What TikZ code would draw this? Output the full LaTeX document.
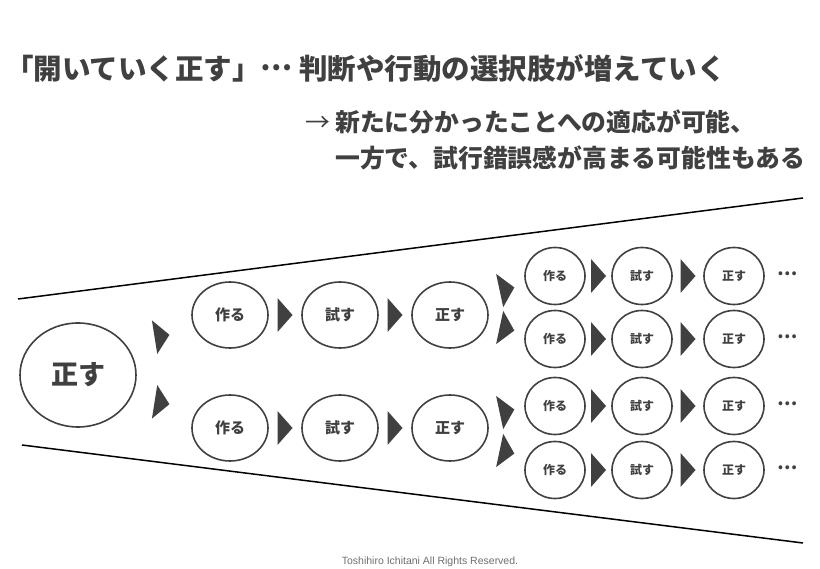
\documentclass[tikz,border=0pt]{standalone}
\usepackage{fontspec}
\setmainfont{Liberation Sans}
\newfontfamily\jp{Noto Sans CJK JP}
\usepackage{tikz}
\usetikzlibrary{shapes.geometric,calc}
\definecolor{ink}{RGB}{64,64,64}
\definecolor{footgray}{RGB}{110,110,110}
\newcommand{\middots}{\raisebox{0.3em}{…}}

\tikzset{
  bubble/.style={ellipse, draw=ink, line width=1.6pt, text=ink, inner sep=0pt},
  bigbubble/.style={bubble, minimum width=116pt, minimum height=104pt,
    font=\jp\bfseries\fontsize{27}{27}\selectfont},
  midbubble/.style={bubble, minimum width=76pt, minimum height=66pt,
    font=\jp\bfseries\fontsize{15}{15}\selectfont},
  smallbubble/.style={bubble, minimum width=60pt, minimum height=57pt,
    font=\jp\bfseries\fontsize{12}{12}\selectfont},
  dots/.style={text=ink, inner sep=0pt, font=\jp\bfseries\fontsize{18}{18}\selectfont},
  funnel/.style={line width=1.5pt, black},
  tri/.pic={\fill[ink] (-7.5,-17) -- (7.5,0) -- (-7.5,17) -- cycle;}
}

\begin{document}
\begin{tikzpicture}[x=1pt, y=-1pt]
    \useasboundingbox (0,0) rectangle (820,569);

    % Heading
    \node[anchor=west, text=ink, font=\jp\bfseries\fontsize{28.5}{28.5}\selectfont, inner sep=0pt]
        (title) at (5,68) {「開いていく正す」\middots\ 判断や行動の選択肢が増えていく};
    \node[anchor=west, text=ink, font=\jp\bfseries\fontsize{24.8}{24.8}\selectfont, inner sep=0pt]
        (note1) at (335,122) {\llap{{\mdseries →}\hspace{5pt}}新たに分かったことへの適応が可能、};
    \node[anchor=west, text=ink, font=\jp\bfseries\fontsize{24.8}{24.8}\selectfont, inner sep=0pt]
        (note2) at (335,158) {一方で、試行錯誤感が高まる可能性もある};

    % Funnel
    \coordinate (topL) at (18,299);
    \coordinate (topR) at (803,198);
    \coordinate (botL) at (22,445);
    \coordinate (botR) at (803,543);
    \draw[funnel] (topL) -- (topR);
    \draw[funnel] (botL) -- (botR);

    % Start
    \node[bigbubble] (start) at (78,375) {正す};
    \pic[rotate=9] at (162,336) {tri};
    \pic[rotate=-9] at (162,403) {tri};

    % Second level
    \foreach \y/\i in {315/1,428/2} {
        \node[midbubble] (make\i) at (230,\y) {作る};
        \node[midbubble] (try\i) at (340,\y) {試す};
        \node[midbubble] (fix\i) at (450,\y) {正す};
        \pic at ($(make\i.east)!0.5!(try\i.west)$) {tri};
        \pic at ($(try\i.east)!0.5!(fix\i.west)$) {tri};
    }

    % Third level
    \pic[rotate=12] at (507,289) {tri};
    \pic[rotate=-12] at (507,329) {tri};
    \pic[rotate=12] at (507,411) {tri};
    \pic[rotate=-12] at (507,452) {tri};
    \foreach \y/\i in {276/1,339/2,406/3,470/4} {
        \node[smallbubble] (makeB\i) at (555,\y) {作る};
        \node[smallbubble] (tryB\i) at (642,\y) {試す};
        \node[smallbubble] (fixB\i) at (734,\y) {正す};
        \node[dots, anchor=base] (more\i) at (788,\y+5) {\middots};
        \pic at ($(makeB\i.east)!0.5!(tryB\i.west)$) {tri};
        \pic at ($(tryB\i.east)!0.5!(fixB\i.west)$) {tri};
    }

    % Credit
    \node[text=footgray, font=\fontsize{10.5}{11}\selectfont] (credit) at (430,562)
        {Toshihiro Ichitani All Rights Reserved.};
\end{tikzpicture}
\end{document}
